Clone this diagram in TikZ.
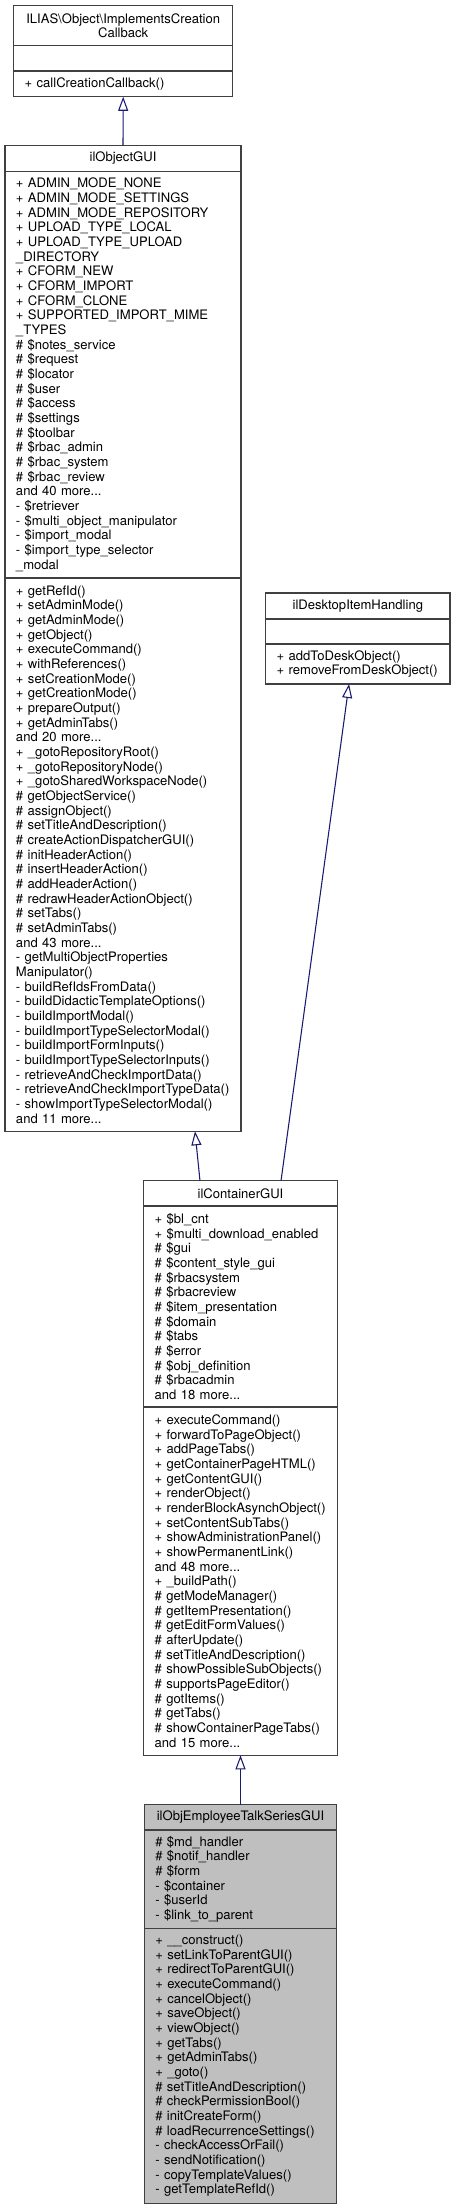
\documentclass[tikz,border=0pt]{standalone}
\usepackage{fontspec}
\setmainfont{TeX Gyre Heros}
\usetikzlibrary{arrows.meta,positioning}
\definecolor{edgeblue}{HTML}{191970}
\definecolor{boxgray}{HTML}{404040}
\definecolor{hlgray}{HTML}{BFBFBF}
\hyphenpenalty=10000
\exhyphenpenalty=10000

\begin{document}
\begin{tikzpicture}[x=0.75pt, y=-0.75pt,
	part/.style={draw=boxgray, line width=1pt, inner xsep=8.25pt, inner ysep=1pt, outer sep=0pt, align=left, font=\fontsize{9.8}{11}\selectfont},
	head/.style={part, align=center},
	inherit/.style={draw=edgeblue, line width=0.8pt, -{Triangle[open, length=10.5pt, width=7.5pt]}},
	hl/.style={fill=hlgray}]
	\useasboundingbox (0,0) rectangle (455,2209);
	
	% ILIAS\Object\ImplementsCreationCallback
	\node[head, text width=147.75pt, minimum height=30pt, anchor=north west] (iccHead) at (13.7,5.7) {ILIAS\textbackslash Object\textbackslash ImplementsCreation\\Callback};
	\node[part, text width=147.75pt, minimum height=19pt, below=0pt of iccHead] (iccAttr) {};
	\node[part, text width=147.75pt, minimum height=19.3pt, below=0pt of iccAttr] (iccOps) {+~callCreationCallback()};
	
	% ilObjectGUI
	\node[head, text width=160.5pt, minimum height=19.2pt, anchor=north west] (objHead) at (5,145.7) {ilObjectGUI};
	\node[part, text width=160.5pt, minimum height=305pt, below=0pt of objHead] (objAttr) {+~ADMIN\_MODE\_NONE\\
		+~ADMIN\_MODE\_SETTINGS\\
		+~ADMIN\_MODE\_REPOSITORY\\
		+~UPLOAD\_TYPE\_LOCAL\\
		+~UPLOAD\_TYPE\_UPLOAD\\
		\_DIRECTORY\\
		+~CFORM\_NEW\\
		+~CFORM\_IMPORT\\
		+~CFORM\_CLONE\\
		+~SUPPORTED\_IMPORT\_MIME\\
		\_TYPES\\
		\#~\$notes\_service\\
		\#~\$request\\
		\#~\$locator\\
		\#~\$user\\
		\#~\$access\\
		\#~\$settings\\
		\#~\$toolbar\\
		\#~\$rbac\_admin\\
		\#~\$rbac\_system\\
		\#~\$rbac\_review\\
		and 40 more...\\
		-~\$retriever\\
		-~\$multi\_object\_manipulator\\
		-~\$import\_modal\\
		-~\$import\_type\_selector\\
		\_modal};
	\node[part, text width=160.5pt, minimum height=415pt, below=0pt of objAttr] (objOps) {+~getRefId()\\
		+~setAdminMode()\\
		+~getAdminMode()\\
		+~getObject()\\
		+~executeCommand()\\
		+~withReferences()\\
		+~setCreationMode()\\
		+~getCreationMode()\\
		+~prepareOutput()\\
		+~getAdminTabs()\\
		and 20 more...\\
		+~\_gotoRepositoryRoot()\\
		+~\_gotoRepositoryNode()\\
		+~\_gotoSharedWorkspaceNode()\\
		\#~getObjectService()\\
		\#~assignObject()\\
		\#~setTitleAndDescription()\\
		\#~createActionDispatcherGUI()\\
		\#~initHeaderAction()\\
		\#~insertHeaderAction()\\
		\#~addHeaderAction()\\
		\#~redrawHeaderActionObject()\\
		\#~setTabs()\\
		\#~setAdminTabs()\\
		and 43 more...\\
		-~getMultiObjectProperties\\
		Manipulator()\\
		-~buildRefIdsFromData()\\
		-~buildDidacticTemplateOptions()\\
		-~buildImportModal()\\
		-~buildImportTypeSelectorModal()\\
		-~buildImportFormInputs()\\
		-~buildImportTypeSelectorInputs()\\
		-~retrieveAndCheckImportData()\\
		-~retrieveAndCheckImportTypeData()\\
		-~showImportTypeSelectorModal()\\
		and 11 more...};
	
	% ilDesktopItemHandling
	\node[head, text width=121.7pt, minimum height=19.5pt, anchor=north west] (deskHead) at (265.7,593) {ilDesktopItemHandling};
	\node[part, text width=121.7pt, minimum height=18.75pt, below=0pt of deskHead] (deskAttr) {};
	\node[part, text width=121.7pt, minimum height=30pt, below=0pt of deskAttr] (deskOps) {+~addToDeskObject()\\
		+~removeFromDeskObject()};
	
	% ilContainerGUI
	\node[head, text width=128.7pt, minimum height=19pt, anchor=north west] (contHead) at (143.7,1180.7) {ilContainerGUI};
	\node[part, text width=128.7pt, minimum height=150.75pt, below=0pt of contHead] (contAttr) {+~\$bl\_cnt\\
		+~\$multi\_download\_enabled\\
		\#~\$gui\\
		\#~\$content\_style\_gui\\
		\#~\$rbacsystem\\
		\#~\$rbacreview\\
		\#~\$item\_presentation\\
		\#~\$domain\\
		\#~\$tabs\\
		\#~\$error\\
		\#~\$obj\_definition\\
		\#~\$rbacadmin\\
		and 18 more...};
	\node[part, text width=128.7pt, minimum height=261.2pt, below=0pt of contAttr] (contOps) {+~executeCommand()\\
		+~forwardToPageObject()\\
		+~addPageTabs()\\
		+~getContainerPageHTML()\\
		+~getContentGUI()\\
		+~renderObject()\\
		+~renderBlockAsynchObject()\\
		+~setContentSubTabs()\\
		+~showAdministrationPanel()\\
		+~showPermanentLink()\\
		and 48 more...\\
		+~\_buildPath()\\
		\#~getModeManager()\\
		\#~getItemPresentation()\\
		\#~getEditFormValues()\\
		\#~afterUpdate()\\
		\#~setTitleAndDescription()\\
		\#~showPossibleSubObjects()\\
		\#~supportsPageEditor()\\
		\#~gotItems()\\
		\#~getTabs()\\
		\#~showContainerPageTabs()\\
		and 15 more...};
	
	% ilObjEmployeeTalkSeriesGUI
	\node[head, hl, text width=127.8pt, minimum height=19pt, anchor=north west] (talkHead) at (144.3,1804.7) {ilObjEmployeeTalkSeriesGUI};
	\node[part, hl, text width=127.8pt, minimum height=73.7pt, below=0pt of talkHead] (talkAttr) {\#~\$md\_handler\\
		\#~\$notif\_handler\\
		\#~\$form\\
		-~\$container\\
		-~\$userId\\
		-~\$link\_to\_parent};
	\node[part, hl, text width=127.8pt, minimum height=206.25pt, below=0pt of talkAttr] (talkOps) {+~\_\_construct()\\
		+~setLinkToParentGUI()\\
		+~redirectToParentGUI()\\
		+~executeCommand()\\
		+~cancelObject()\\
		+~saveObject()\\
		+~viewObject()\\
		+~getTabs()\\
		+~getAdminTabs()\\
		+~\_goto()\\
		\#~setTitleAndDescription()\\
		\#~checkPermissionBool()\\
		\#~initCreateForm()\\
		\#~loadRecurrenceSettings()\\
		-~checkAccessOrFail()\\
		-~sendNotification()\\
		-~copyTemplateValues()\\
		-~getTemplateRefId()};
	
	% inheritance
	\draw[inherit] (objHead.north) -- (iccOps.south);
	\draw[inherit] ([xshift=-30.4pt]contHead.north) -- ([xshift=54pt]objOps.south);
	\draw[inherit] ([xshift=30.4pt]contHead.north) -- ([xshift=-6.6pt]deskOps.south);
	\draw[inherit] (talkHead.north) -- (contOps.south);
	
\end{tikzpicture}
\end{document}
